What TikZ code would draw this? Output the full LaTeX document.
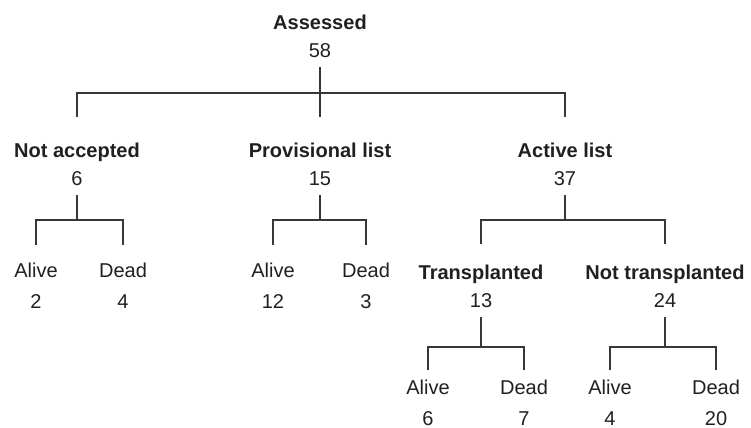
\documentclass[tikz,border=0pt]{standalone}
\usepackage{fontspec}
\setmainfont{Liberation Sans}
\usetikzlibrary{positioning}
\definecolor{inkgray}{RGB}{35,31,32}
\definecolor{linegray}{RGB}{55,55,55}

\begin{document}
\begin{tikzpicture}[
  x = 0.02cm, y = -0.02cm,
  grp/.style  = {inner sep=0pt, outer sep=0pt, align=center, text=inkgray,
                 font=\fontsize{11.4}{15.8}\selectfont},
  leaf/.style = {grp},
  link/.style = {draw=linegray, line width=0.8pt},
  stem/.style = {link, shorten <=5.5pt},
]
\useasboundingbox (0,0) rectangle (751,428);

% ── Root ──────────────────────────────────────────────────────────────────────
\node[grp] (assessed) at (320,36)  {\textbf{Assessed}\\58};

% ── Level 1 ───────────────────────────────────────────────────────────────────
\node[grp] (notacc) at (77,164)  {\textbf{Not accepted}\\6};
\node[grp] (prov)   at (320,164) {\textbf{Provisional list}\\15};
\node[grp] (active) at (565,164) {\textbf{Active list}\\37};

% ── Level 2 ───────────────────────────────────────────────────────────────────
\node[leaf] (alive1) at (36,286)  {Alive\\[1.8pt]2};
\node[leaf] (dead1)  at (123,286) {Dead\\[1.8pt]4};
\node[leaf] (alive2) at (273,286) {Alive\\[1.8pt]12};
\node[leaf] (dead2)  at (366,286) {Dead\\[1.8pt]3};
\node[grp]  (tx)     at (481,286) {\textbf{Transplanted}\\13};
\node[grp]  (ntx)    at (665,286) {\textbf{Not transplanted}\\24};

% ── Level 3 ───────────────────────────────────────────────────────────────────
\node[leaf] (alive3) at (428,403) {Alive\\[1.8pt]6};
\node[leaf] (dead3)  at (524,403) {Dead\\[1.8pt]7};
\node[leaf] (alive4) at (610,403) {Alive\\[1.8pt]4};
\node[leaf] (dead4)  at (716,403) {Dead\\[1.8pt]20};

% ── Junctions ─────────────────────────────────────────────────────────────────
\coordinate (j0) at (320,93);
\coordinate (j1) at (77,220);
\coordinate (j2) at (320,220);
\coordinate (j3) at (565,220);
\coordinate (j4) at (481,347);
\coordinate (j5) at (665,347);

% ── Brackets ──────────────────────────────────────────────────────────────────
\draw[stem] (assessed) -- (j0);
\draw[link, shorten <=14.8pt, shorten >=14.8pt]
  (notacc.north) |- (j0) -| (active.north);
\draw[link, shorten >=14.8pt] (j0) -- (prov.north);

\draw[stem] (notacc) -- (j1);
\draw[link, shorten <=10.5pt, shorten >=10.5pt]
  (alive1.north) |- (j1) -| (dead1.north);

\draw[stem] (prov) -- (j2);
\draw[link, shorten <=10.5pt, shorten >=10.5pt]
  (alive2.north) |- (j2) -| (dead2.north);

\draw[stem] (active) -- (j3);
\draw[link, shorten <=12pt, shorten >=12pt]
  (tx.north) |- (j3) -| (ntx.north);

\draw[stem] (tx) -- (j4);
\draw[link, shorten <=6pt, shorten >=6pt]
  (alive3.north) |- (j4) -| (dead3.north);

\draw[stem] (ntx) -- (j5);
\draw[link, shorten <=6pt, shorten >=6pt]
  (alive4.north) |- (j5) -| (dead4.north);

\end{tikzpicture}
\end{document}
